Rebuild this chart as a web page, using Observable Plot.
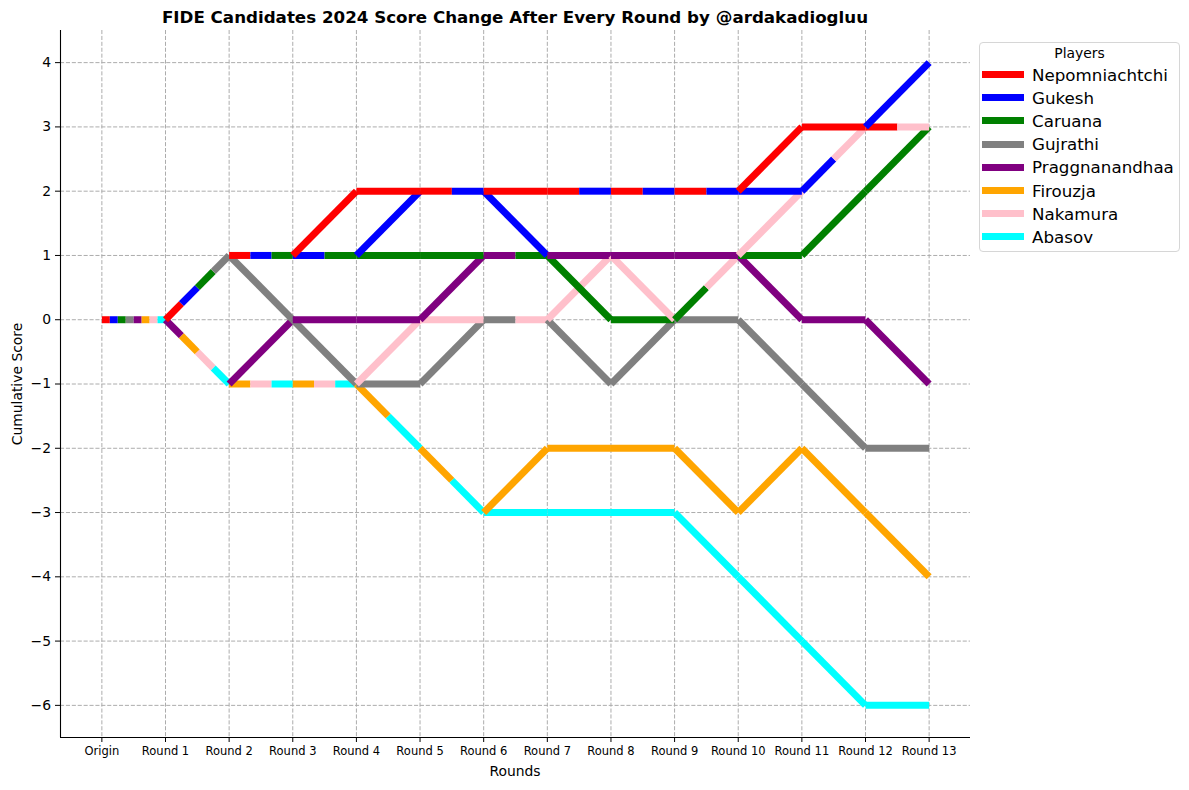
<!DOCTYPE html>
<html>
<head>
<meta charset="utf-8">
<script src="https://cdn.jsdelivr.net/npm/d3@7"></script>
<script src="https://cdn.jsdelivr.net/npm/@observablehq/plot@0.6"></script>
<style>
  body { margin: 0; background: #fff; font-family: "DejaVu Sans", sans-serif; color: #000; }
  #wrap { position: relative; width: 1189px; height: 790px; overflow: hidden; }
  #title { position: absolute; left: 0; top: 0; width: 1030px; height: 30px; line-height: 34px;
           text-align: center; font-weight: bold; font-size: 16.7px; }
  #chart { position: absolute; left: 0; top: 30px; }
  .xlabel { position: absolute; left: 0; width: 1030px; top: 762px; text-align: center; font-size: 13.9px; line-height: 18px; }
  .ylabel { position: absolute; left: 17px; top: 384px; transform: translate(-50%, -50%) rotate(-90deg);
            white-space: nowrap; font-size: 13.9px; line-height: 18px; }
  #legend { position: absolute; left: 979px; top: 42px; width: 201px; height: 210px; box-sizing: border-box;
            border: 1px solid #d6d6d6; border-radius: 4px; background: rgba(255,255,255,0.8); }
  #legend .ltitle { position: absolute; top: 1px; left: 0; width: 100%; text-align: center; font-size: 13.9px; line-height: 18px; }
  #legend .rows { position: absolute; top: 20px; left: 2px; }
  #legend .row { display: flex; align-items: center; height: 23.2px; }
  #legend .sw { width: 42px; height: 7px; margin-right: 8px; }
  #legend .lab { font-size: 16.7px; line-height: 20px; white-space: nowrap; }
</style>
</head>
<body>
<div id="wrap">
  <div id="title">FIDE Candidates 2024 Score Change After Every Round by @ardakadiogluu</div>
  <div id="chart"></div>
  <div class="xlabel">Rounds</div>
  <div class="ylabel">Cumulative Score</div>
  <div id="legend"><div class="ltitle">Players</div><div class="rows"></div></div>
</div>
<script>
// ---- data ----
const rounds = ["Origin", "Round 1", "Round 2", "Round 3", "Round 4", "Round 5", "Round 6",
                "Round 7", "Round 8", "Round 9", "Round 10", "Round 11", "Round 12", "Round 13"];
const players = ["Nepomniachtchi", "Gukesh", "Caruana", "Gujrathi", "Praggnanandhaa", "Firouzja", "Nakamura", "Abasov"];

// cumulative score (wins - losses) at each point
const nepomniachtchi = [0, 0, 1, 1, 2, 2, 2, 2, 2, 2, 2, 3, 3, 3];
const gukesh         = [0, 0, 1, 1, 1, 2, 2, 1, 2, 2, 2, 2, 3, 4];
const caruana        = [0, 0, 1, 1, 1, 1, 1, 1, 0, 0, 1, 1, 2, 3];
const gujrathi       = [0, 0, 1, 0, -1, -1, 0, 0, -1, 0, 0, -1, -2, -2];
const praggnanandhaa = [0, 0, -1, 0, 0, 0, 1, 1, 1, 1, 1, 0, 0, -1];
const firouzja       = [0, 0, -1, -1, -1, -2, -3, -2, -2, -2, -3, -2, -3, -4];
const nakamura       = [0, 0, -1, -1, -1, 0, 0, 0, 1, 0, 1, 2, 3, 3];
const abasov         = [0, 0, -1, -1, -1, -2, -3, -3, -3, -3, -4, -5, -6, -6];

// quirks of the original drawing
const drawnStartOverrides = [{player: "Gukesh", round: "Round 8", from: 2}];
const sharedOrderOverrides = [{round: "Round 7", order: ["Praggnanandhaa", "Caruana"]}];

const yTicks = [-6, -5, -4, -3, -2, -1, 0, 1, 2, 3, 4];

// ---- style ----
const playerColors = ["#ff0000", "#0000ff", "#008000", "#808080", "#800080", "#ffa500", "#ffc0cb", "#00ffff"];

// ---- build split segments ----
const series = [nepomniachtchi, gukesh, caruana, gujrathi, praggnanandhaa, firouzja, nakamura, abasov];
const pieces = [];
for (let i = 1; i < rounds.length; i++) {
  const groups = new Map();
  players.forEach((p, k) => {
    const ov = drawnStartOverrides.find(o => o.player === p && o.round === rounds[i]);
    const from = ov ? ov.from : series[k][i - 1];
    const to = series[k][i];
    const key = from + "," + to;
    if (!groups.has(key)) groups.set(key, {from, to, members: []});
    groups.get(key).members.push(k);
  });
  const ord = sharedOrderOverrides.find(o => o.round === rounds[i]);
  const sorted = [...groups.values()].sort((a, b) => a.from - b.from || a.to - b.to);
  for (const g of sorted) {
    let m = g.members;
    if (ord && m.length > 1 && m.every(k => ord.order.includes(players[k])) && m.length === ord.order.length) {
      m = ord.order.map(n => players.indexOf(n));
    }
    const n = m.length;
    m.forEach((k, j) => {
      pieces.push({
        player: players[k],
        x1: i - 1 + j / n, x2: i - 1 + (j + 1) / n,
        y1: g.from + (g.to - g.from) * j / n, y2: g.from + (g.to - g.from) * (j + 1) / n
      });
    });
  }
}

const xIdx = rounds.map((_, i) => i);
const xPad = (rounds.length - 1) * 0.05;
const yMin = d3.min(series.flat()), yMax = d3.max(series.flat());
const yPad = (yMax - yMin) * 0.05;

const gridStyle = {stroke: "#acacac", strokeOpacity: 1, strokeWidth: 1, strokeDasharray: "4.1,1.8"};

const chart = Plot.plot({
  width: 1189, height: 760,
  marginLeft: 60, marginRight: 219, marginTop: 0, marginBottom: 53,
  style: {fontFamily: "DejaVu Sans", color: "#000", background: "transparent", overflow: "visible"},
  x: {domain: [-xPad, rounds.length - 1 + xPad]},
  y: {domain: [yMin - yPad, yMax + yPad]},
  color: {domain: players, range: playerColors},
  marks: [
    Plot.gridX(xIdx, gridStyle),
    Plot.gridY(yTicks, gridStyle),
    Plot.link(pieces, {x1: "x1", y1: "y1", x2: "x2", y2: "y2", stroke: "player", strokeWidth: 7, strokeLinecap: "butt"}),
    Plot.axisX(xIdx, {tickFormat: i => rounds[i], tickSize: 5, tickPadding: 4, fontSize: 11.5, label: null}),
    Plot.axisY(yTicks, {tickFormat: d3.format("d"), tickSize: 5, tickPadding: 4.5, fontSize: 13.9, label: null}),
    Plot.ruleX([-xPad], {stroke: "#000", strokeWidth: 1.1}),
    Plot.ruleY([yMin - yPad], {stroke: "#000", strokeWidth: 1.1})
  ]
});
document.getElementById("chart").appendChild(chart);

// legend
const rowsDiv = document.querySelector("#legend .rows");
players.forEach((p, k) => {
  const row = document.createElement("div");
  row.className = "row";
  const sw = document.createElement("div");
  sw.className = "sw";
  sw.style.background = playerColors[k];
  const lab = document.createElement("span");
  lab.className = "lab";
  lab.textContent = p;
  row.appendChild(sw); row.appendChild(lab);
  rowsDiv.appendChild(row);
});
</script>
</body>
</html>
